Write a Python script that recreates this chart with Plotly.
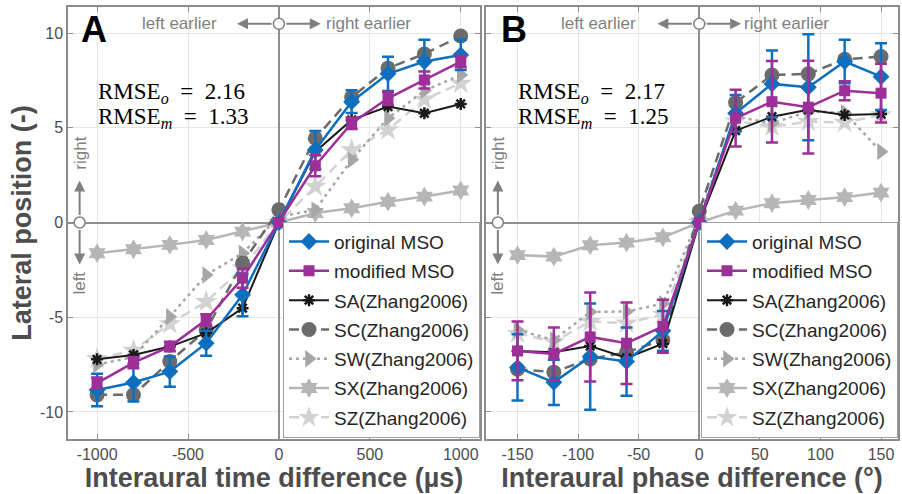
import plotly.graph_objects as go

# ---------------- data ----------------
itd = [-1000, -800, -600, -400, -200, 0, 200, 400, 600, 800, 1000]
ipd = [-150, -120, -90, -60, -30, 0, 30, 60, 90, 120, 150]

# Panel A (ITD)
orig_a = [-8.84, -8.45, -7.87, -6.37, -3.82, 0, 3.83, 6.38, 7.85, 8.50, 8.85]
orig_a_err = [0.86, 1.0, 0.8, 0.66, 1.13, 0, 1.0, 0.6, 0.9, 1.15, 0.8]
mod_a = [-8.48, -7.40, -6.55, -5.14, -2.94, 0, 3.00, 5.24, 6.56, 7.53, 8.50]
mod_a_err = [0.3, 0.3, 0.25, 0.3, 0.5, 0, 0.55, 0.3, 0.35, 0.45, 0.3]
sa_a = [-7.22, -6.99, -6.55, -5.84, -4.52, 0, 3.74, 5.42, 6.12, 5.77, 6.26]
sc_a = [-9.10, -9.10, -7.34, -5.67, -2.15, 0.67, 4.45, 6.62, 8.15, 8.90, 9.85]
sw_a = [-7.50, -7.10, -4.97, -2.77, -1.62, 0.30, 0.67, 3.31, 5.51, 6.96, 7.79]
sx_a = [-1.62, -1.41, -1.18, -0.92, -0.48, 0, 0.50, 0.75, 1.10, 1.37, 1.69]
sz_a = [-7.20, -6.75, -5.35, -4.18, -2.40, 0, 1.90, 3.83, 4.89, 6.50, 7.35]

# Panel B (IPD)
orig_b = [-7.65, -8.44, -7.08, -7.34, -5.72, 0, 5.77, 7.32, 7.14, 8.50, 7.70]
orig_b_err = [1.75, 1.2, 2.8, 1.8, 1.05, 0, 0.97, 1.76, 2.8, 1.15, 1.76]
mod_b = [-6.78, -6.94, -6.04, -6.37, -5.48, 0, 5.51, 6.38, 6.09, 6.96, 6.83]
mod_b_err = [1.55, 1.4, 2.35, 2.15, 1.4, 0, 1.5, 2.15, 2.45, 0.5, 1.55]
sa_b = [-6.78, -6.85, -6.52, -7.15, -6.40, 0, 4.85, 5.59, 5.95, 5.68, 5.73]
sc_b = [-7.75, -7.90, -7.20, -6.85, -6.20, 0.6, 6.33, 7.79, 7.85, 8.62, 8.76]
sw_b = [-5.67, -6.20, -4.72, -4.70, -4.28, 0.3, 5.59, 5.24, 5.86, 5.80, 3.74]
sx_b = [-1.72, -1.80, -1.20, -1.06, -0.78, 0, 0.63, 1.02, 1.19, 1.34, 1.58]
sz_b = [-5.85, -6.30, -5.23, -5.32, -4.85, 0, 5.35, 5.06, 5.33, 5.28, 5.68]

names = ["original MSO", "modified MSO", "SA(Zhang2006)", "SC(Zhang2006)",
         "SW(Zhang2006)", "SX(Zhang2006)", "SZ(Zhang2006)"]
rmse_a = ["2.16", "1.33"]
rmse_b = ["2.17", "1.25"]
xticks_a = [-1000, -500, 0, 500, 1000]
xticks_b = [-150, -100, -50, 0, 50, 100, 150]
yticks = [-10, -5, 0, 5, 10]

# ---------------- styles ----------------
BLUE = "#0f6fbf"
PURPLE = "#9c2f98"
FONT = "Liberation Sans, Arial, sans-serif"
SERIF = "Liberation Serif, DejaVu Serif, serif"
GRAYTXT = "#808080"
AXC = "#8c8c8c"

styles = {
    "SZ(Zhang2006)": dict(color="#d2d2d2", dash="10px,6px", symbol="star", size=17, lw=2.5),
    "SX(Zhang2006)": dict(color="#b6b6b6", dash="solid", symbol="hexagram", size=15, lw=2.5),
    "SW(Zhang2006)": dict(color="#a6a6a6", dash="3px,4px", symbol="triangle-right", size=15, lw=2.5),
    "SC(Zhang2006)": dict(color="#6b6b6b", dash="10px,6px", symbol="circle", size=15, lw=2.5),
    "SA(Zhang2006)": dict(color="#1a1a1a", dash="solid", symbol="asterisk-open", size=10, lw=2),
    "original MSO": dict(color=BLUE, dash="solid", symbol="diamond", size=13, lw=2.5),
    "modified MSO": dict(color=PURPLE, dash="solid", symbol="square", size=11, lw=2.5),
}
rank = {n: i for i, n in enumerate(names)}

fig = go.Figure()


def add_panel(x, data, errs, xa, ya, leg):
    order = ["SZ(Zhang2006)", "SX(Zhang2006)", "SW(Zhang2006)", "SC(Zhang2006)",
             "SA(Zhang2006)", "original MSO", "modified MSO"]
    for n in order:
        s = styles[n]
        marker = dict(symbol=s["symbol"], size=s["size"], color=s["color"])
        if s["symbol"] == "asterisk-open":
            marker["line"] = dict(color=s["color"], width=2.5)
        else:
            marker["line"] = dict(width=0)
        kw = {}
        if n in errs:
            kw["error_y"] = dict(type="data", array=errs[n], visible=True,
                                 color=s["color"], thickness=2.5, width=6)
        fig.add_trace(go.Scatter(
            x=x, y=data[n], name=n, mode="lines+markers",
            line=dict(color=s["color"], width=s["lw"], dash=s["dash"]),
            marker=marker, xaxis=xa, yaxis=ya, legend=leg,
            legendgroup=leg + n, legendrank=rank[n] + 1, **kw))


add_panel(itd, dict(zip(names, [orig_a, mod_a, sa_a, sc_a, sw_a, sx_a, sz_a])),
          {"original MSO": orig_a_err, "modified MSO": mod_a_err}, "x", "y", "legend")
add_panel(ipd, dict(zip(names, [orig_b, mod_b, sa_b, sc_b, sw_b, sx_b, sz_b])),
          {"original MSO": orig_b_err, "modified MSO": mod_b_err}, "x2", "y2", "legend2")

axis_common = dict(showline=True, linecolor=AXC, linewidth=1.5, mirror="allticks",
                   ticks="inside", ticklen=5, tickcolor=AXC, tickwidth=1,
                   showgrid=True, gridcolor="#e6e6e6", gridwidth=1,
                   zeroline=True, zerolinecolor="#8f8f8f", zerolinewidth=2,
                   tickfont=dict(family=FONT, size=16, color="#4d4d4d"))
title_font = dict(family=FONT, size=27, color="#4d4d4d")

legend_common = dict(xanchor="right", yanchor="top", y=0.503,
                     bgcolor="white", bordercolor="#a0a0a0", borderwidth=1,
                     font=dict(family=FONT, size=19, color="#262626"),
                     tracegroupgap=1.6, itemwidth=40)

fig.update_layout(
    width=902, height=494,
    margin=dict(l=68, r=2, t=7, b=55),
    paper_bgcolor="white", plot_bgcolor="white",
    xaxis=dict(domain=[0, 0.4964], range=[-1160, 1106], tickvals=xticks_a,
               ticktext=[str(v) for v in xticks_a],
               title=dict(text="<b>Interaural time difference (µs)</b>", font=title_font, standoff=1),
               **axis_common),
    xaxis2=dict(domain=[0.5036, 1], range=[-176, 164], tickvals=xticks_b,
                ticktext=[str(v) for v in xticks_b], anchor="y2",
                title=dict(text="<b>Interaural phase difference (°)</b>", font=title_font, standoff=1),
                **axis_common),
    yaxis=dict(range=[-11.43, 11.38], tickvals=yticks, ticktext=[str(v) for v in yticks],
               title=dict(text="<b>Lateral position (-)</b>", font=title_font, standoff=0),
               **axis_common),
    yaxis2=dict(range=[-11.43, 11.38], tickvals=yticks, showticklabels=False,
                anchor="x2", **axis_common),
    legend=dict(x=0.4964, **legend_common),
    legend2=dict(x=1.0, **legend_common),
    showlegend=True,
)

# ---------------- annotations (direction arrows, labels) ----------------
anns = []
shapes = []


def direction_marks(xr, yr, xscale, x_left_edge, left_txt_edge, right_txt_edge, letter, letter_x, rm, rm_x):
    ytop = 10.49
    alen = 42 / xscale
    # top horizontal arrows
    for sgn in (-1, 1):
        anns.append(dict(x=sgn * alen, y=ytop, xref=xr, yref=yr, ax=-sgn * 36, ay=0,
                         text="", showarrow=True, arrowhead=2, arrowsize=1.1,
                         arrowwidth=2, arrowcolor=GRAYTXT))
    anns.append(dict(x=left_txt_edge, y=ytop, xref=xr, yref=yr, xanchor="right", yanchor="middle",
                     text="left earlier", showarrow=False,
                     font=dict(family=FONT, size=17, color=GRAYTXT)))
    anns.append(dict(x=right_txt_edge, y=ytop, xref=xr, yref=yr, xanchor="left", yanchor="middle",
                     text="right earlier", showarrow=False,
                     font=dict(family=FONT, size=17, color=GRAYTXT)))
    # vertical arrows at left
    vlen = 42 / 18.94
    for sgn in (-1, 1):
        anns.append(dict(x=x_left_edge, y=sgn * vlen, xref=xr, yref=yr, ax=0, ay=sgn * 36,
                         text="", showarrow=True, arrowhead=2, arrowsize=1.1,
                         arrowwidth=2, arrowcolor=GRAYTXT))
    anns.append(dict(x=x_left_edge, y=3.67, xref=xr, yref=yr, textangle=-90,
                     text="right", showarrow=False,
                     font=dict(family=FONT, size=17, color=GRAYTXT)))
    anns.append(dict(x=x_left_edge, y=-3.19, xref=xr, yref=yr, textangle=-90,
                     text="left", showarrow=False,
                     font=dict(family=FONT, size=17, color=GRAYTXT)))
    for (cx, cy) in ((0, ytop), (x_left_edge, 0)):
        shapes.append(dict(type="circle", xref=xr, yref=yr, xsizemode="pixel", ysizemode="pixel",
                           xanchor=cx, yanchor=cy, x0=-5.5, x1=5.5, y0=-5.5, y1=5.5,
                           line=dict(color=GRAYTXT, width=1.5), fillcolor="white", layer="above"))
    # panel letter
    anns.append(dict(x=letter_x, y=10.17, xref=xr, yref=yr, text="<b>%s</b>" % letter,
                     showarrow=False, font=dict(family=FONT, size=36, color="black")))
    # RMSE text
    anns.append(dict(x=rm_x, y=6.84, xref=xr, yref=yr, xanchor="left",
                     text="RMSE<sub><i>o</i></sub>  =  " + rm[0], showarrow=False,
                     font=dict(family=SERIF, size=23, color="black")))
    anns.append(dict(x=rm_x, y=5.52, xref=xr, yref=yr, xanchor="left",
                     text="RMSE<sub><i>m</i></sub>  =  " + rm[1], showarrow=False,
                     font=dict(family=SERIF, size=23, color="black")))


direction_marks("x", "y", 0.18225, -1096, -330, 250, "A", -1018, rmse_a, -1005)
direction_marks("x2", "y2", 1.2153, -166.2, -50.5, 35.5, "B", -153, rmse_b, -151.5)

fig.update_layout(annotations=anns, shapes=shapes)

fig.write_html("out.html")
